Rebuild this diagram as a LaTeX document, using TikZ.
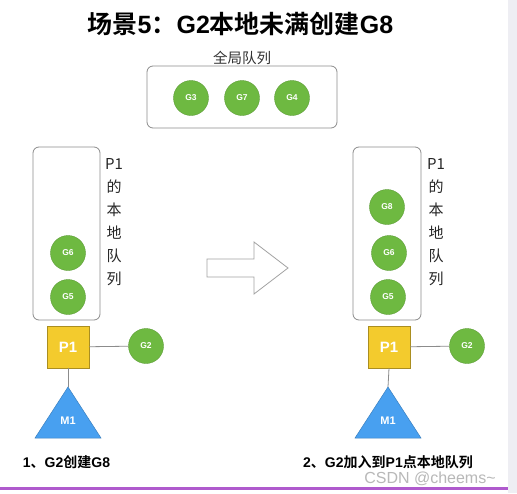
\documentclass[tikz,border=0pt]{standalone}
\usepackage{fontspec}
\setmainfont{Liberation Sans}
\newfontfamily\cjk[BoldFont={Noto Sans CJK SC Bold}]{Noto Sans CJK SC}
\definecolor{ggreen}{RGB}{110,185,65}
\definecolor{gyellow}{RGB}{243,203,45}
\definecolor{gblue}{RGB}{72,160,240}
\definecolor{lgray}{RGB}{140,140,140}
\definecolor{stripgray}{RGB}{238,238,243}
\definecolor{purp}{RGB}{175,90,205}
\tikzset{
  gnode/.style={circle, fill=ggreen, draw=ggreen!85!black, line width=0.4pt, minimum size=35pt, inner sep=0pt, text=white, font=\bfseries\fontsize{8.5}{8.5}\selectfont},
  qbox/.style={draw=lgray, line width=0.8pt, rounded corners=6pt, inner sep=0pt},
  pbox/.style={rectangle, fill=gyellow, draw=gyellow!70!black, line width=0.5pt, minimum size=42pt, inner sep=0pt, text=white, font=\bfseries\fontsize{15}{15}\selectfont},
  conn/.style={draw=lgray, line width=0.8pt},
  mtri/.style={fill=gblue, draw=gblue!80!black, line width=0.5pt},
  mlabel/.style={text=white, font=\bfseries\fontsize{11}{11}\selectfont},
  vlabel/.style={align=center, font=\cjk\fontsize{15}{23}\selectfont, text=black!85},
  caption/.style={font=\bfseries\fontsize{14}{14}\selectfont},
}
\begin{document}
\begin{tikzpicture}[x=1pt,y=-1pt]
\useasboundingbox (0,0) rectangle (517,493);
\fill[white] (0,0) rectangle (517,493);
\fill[stripgray] (508,0) rectangle (517,493);
\fill[purp] (0,487) rectangle (508,490);

% title
\node[font=\bfseries\fontsize{25}{25}\selectfont] (title) at (240.5,24) {{\cjk 场景}5{\cjk ：}G2{\cjk 本地未满创建}G8};

% global queue
\node[font=\cjk\fontsize{14.5}{14.5}\selectfont, text=black!80] (gqlabel) at (242,58) {全局队列};
\node[qbox, minimum width=190pt, minimum height=62pt] (gq) at (242,97) {};
\node[gnode] (g3) at (191,98) {G3};
\node[gnode] (g7) at (242,98) {G7};
\node[gnode] (g4) at (292,98) {G4};

% left scenario
\node[qbox, minimum width=67pt, minimum height=173pt] (lq1) at (66.5,233.5) {};
\node[vlabel] (lab1) at (114,222) {P1\\的\\本\\地\\队\\列};
\node[gnode] (l1g6) at (68,253) {G6};
\node[gnode] (l1g5) at (68,297) {G5};
\node[pbox] (p1a) at (68,347) {P1};
\node[gnode] (g2a) at (146,346) {G2};
\coordinate (m1atop) at (68,387);
\coordinate (m1al) at (35,438);
\coordinate (m1ar) at (101,438);
\draw[conn] (p1a) -- (g2a);
\draw[conn] (p1a.south) -- (m1atop);
\filldraw[mtri] (m1atop) -- (m1ar) -- (m1al) -- cycle;
\node[mlabel] (m1a) at (68,421) {M1};
\node[caption] (cap1) at (66.5,462) {1{\cjk 、}G2{\cjk 创建}G8};

% big arrow
\draw[draw=lgray!80, line width=0.8pt, fill=white]
  (207,259) -- (254,259) -- (254,242) -- (288,268) -- (254,294) -- (254,277) -- (207,277) -- cycle;

% right scenario
\node[qbox, minimum width=68pt, minimum height=173pt] (lq2) at (387,233.5) {};
\node[vlabel] (lab2) at (436,222) {P1\\的\\本\\地\\队\\列};
\node[gnode] (r2g8) at (387,207) {G8};
\node[gnode] (r2g6) at (389,253) {G6};
\node[gnode] (r2g5) at (388,297) {G5};
\node[pbox] (p1b) at (389,347) {P1};
\node[gnode] (g2b) at (467,346) {G2};
\coordinate (m1btop) at (388,387);
\coordinate (m1bl) at (355,438);
\coordinate (m1br) at (421,438);
\draw[conn] (p1b) -- (g2b);
\draw[conn] (p1b.south) -- (m1btop);
\filldraw[mtri] (m1btop) -- (m1br) -- (m1bl) -- cycle;
\node[mlabel] (m1b) at (388,421) {M1};
\node[caption] (cap2) at (388,462) {2{\cjk 、}G2{\cjk 加入到}P1{\cjk 点本地队列}};

% watermark
\node[font=\fontsize{16}{16}\selectfont, text=black!28] (wm) at (430,479) {CSDN @cheems\textasciitilde};
\end{tikzpicture}
\end{document}
